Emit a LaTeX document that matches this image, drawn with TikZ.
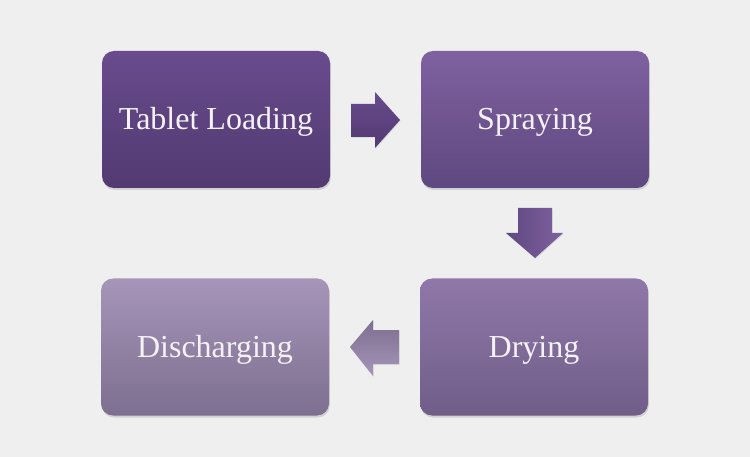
\documentclass[tikz,border=0pt]{standalone}
\usepackage{fontspec}
\setmainfont{Liberation Serif}
\usetikzlibrary{shadows}
\definecolor{bg}{HTML}{EFEFEF}
\definecolor{aT}{HTML}{684B8D}
\definecolor{aB}{HTML}{523A71}
\definecolor{bT}{HTML}{7F61A0}
\definecolor{bB}{HTML}{5F4880}
\definecolor{cT}{HTML}{8F78A9}
\definecolor{cB}{HTML}{705D88}
\definecolor{dT}{HTML}{A695B9}
\definecolor{dB}{HTML}{7D6F90}
\definecolor{txt}{HTML}{F4F2F6}
\tikzset{
  stagebox/.style={rectangle, rounded corners=12pt, minimum width=228pt, minimum height=137pt,
    inner sep=0pt, text=txt, font=\fontsize{32}{36}\selectfont, text height=22pt, text depth=1pt,
    general shadow={fill=black, opacity=0.12, shadow xshift=0.8pt, shadow yshift=-2pt}},
  blockarrow/.style={general shadow={fill=black, opacity=0.08, shadow xshift=0.6pt, shadow yshift=-1pt}}
}
\begin{document}
\begin{tikzpicture}[x=1pt,y=-1pt]
\fill[bg] (0,0) rectangle (750,457);
\useasboundingbox (0,0) rectangle (750,457);
\node[stagebox, top color=aT, bottom color=aB] (load) at (216,119.5) {Tablet Loading};
\node[stagebox, top color=bT, bottom color=bB] (spray) at (535,119.5) {Spraying};
\node[stagebox, top color=cT, bottom color=cB] (dry) at (534,347) {Drying};
\node[stagebox, top color=dT, bottom color=dB] (dis) at (215,347) {Discharging};
% right arrow
\path[blockarrow, top color=aT, bottom color=aB]
  (351,104) -- (375,104) -- (375,92) -- (400,120) -- (375,148) -- (375,137) -- (351,137) -- cycle;
% down arrow
\path[blockarrow, left color=bB, right color=bT]
  (518,208) -- (552,208) -- (552,233) -- (563,233) -- (535,258) -- (506,233) -- (518,233) -- cycle;
% left arrow
\path[blockarrow, top color=dB, bottom color=dT]
  (399,330) -- (373,330) -- (373,320) -- (350,347) -- (373,376) -- (373,364) -- (399,364) -- cycle;
\end{tikzpicture}
\end{document}
